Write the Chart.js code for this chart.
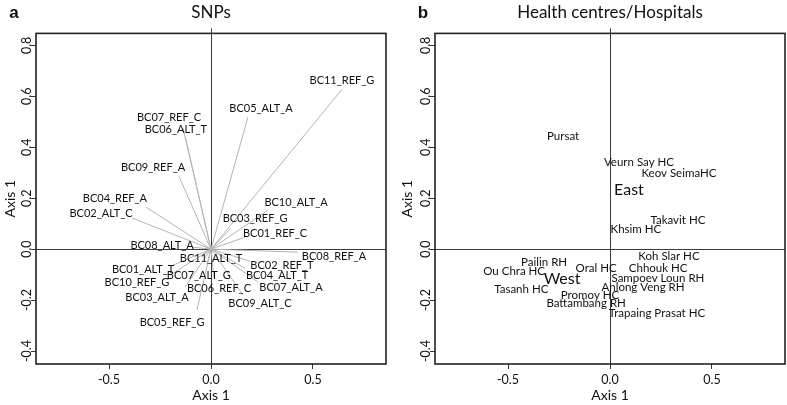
<!DOCTYPE html>
<html>
<head>
<meta charset="utf-8">
<script src="https://cdn.jsdelivr.net/npm/chart.js@4.4.1/dist/chart.umd.min.js"></script>
<style>
  body { margin: 0; background: #fff; width: 787px; height: 405px; position: relative; overflow: hidden; }
  canvas { position: absolute; top: 0; }
  #snp { left: 0; }
  #hc { left: 397px; }
</style>
</head>
<body>
<canvas id="snp" width="395" height="405"></canvas>
<canvas id="hc" width="390" height="405"></canvas>
<script>
// tick labels
const xTicks = [-0.5, 0, 0.5];
const yTicks = [-0.4, -0.2, 0, 0.2, 0.4, 0.6, 0.8];

// panel a: SNP arrows (end points) and where their labels sit
const snpNames = ['BC11_REF_G', 'BC05_ALT_A', 'BC07_REF_C', 'BC06_ALT_T', 'BC09_REF_A', 'BC04_REF_A',
  'BC02_ALT_C', 'BC08_ALT_A', 'BC10_ALT_A', 'BC03_REF_G', 'BC01_REF_C', 'BC08_REF_A', 'BC11_ALT_T',
  'BC02_REF_T', 'BC04_ALT_T', 'BC07_ALT_A', 'BC09_ALT_C', 'BC06_REF_C', 'BC07_ALT_G', 'BC01_ALT_T',
  'BC10_REF_G', 'BC03_ALT_A', 'BC05_REF_G'];
const snpX = [0.642, 0.181, -0.137, -0.123, -0.157, -0.319, -0.387, -0.093, 0.279, 0.098, 0.167, 0.426, -0.03,
  0.191, 0.167, 0.23, 0.157, 0.015, -0.02, -0.186, -0.2, -0.127, -0.069];
const snpY = [0.627, 0.518, 0.475, 0.431, 0.286, 0.165, 0.122, 0.008, 0.153, 0.082, 0.047, -0.012, -0.02,
  -0.047, -0.075, -0.129, -0.18, -0.114, -0.059, -0.063, -0.102, -0.149, -0.239];
const snpLabelX = [0.642, 0.245, -0.206, -0.172, -0.284, -0.471, -0.539, -0.24, 0.417, 0.216, 0.314, 0.603, 0.0,
  0.348, 0.324, 0.392, 0.24, 0.039, -0.06, -0.333, -0.363, -0.265, -0.191];
const snpLabelY = [0.663, 0.553, 0.518, 0.471, 0.322, 0.2, 0.141, 0.016, 0.184, 0.122, 0.063, -0.027, -0.035,
  -0.063, -0.102, -0.149, -0.212, -0.153, -0.102, -0.078, -0.129, -0.188, -0.286];

// panel b: health centres / hospitals
const siteNames = ['Pursat', 'Veurn Say HC', 'Keov SeimaHC', 'Takavit HC', 'Khsim HC', 'Koh Slar HC',
  'Pailin RH', 'Ou Chra HC', 'Oral HC', 'Chhouk HC', 'Sampoev Loun RH', 'Tasanh HC', 'Anlong Veng RH',
  'Promoy HC', 'Battambang RH', 'Trapaing Prasat HC'];
const siteX = [-0.23, 0.142, 0.338, 0.333, 0.127, 0.289, -0.323, -0.47, -0.068, 0.236, 0.235, -0.435, 0.162,
  -0.098, -0.117, 0.23];
const siteY = [0.443, 0.341, 0.298, 0.114, 0.078, -0.027, -0.05, -0.086, -0.076, -0.076, -0.115, -0.158, -0.15,
  -0.18, -0.213, -0.25];
const groupNames = ['East', 'West'];
const groupX = [0.093, -0.235];
const groupY = [0.231, -0.115];

const FONT = 'Lato, "Open Sans", sans-serif';
const INK = '#111';

const framePlugin = {
  id: 'frame',
  beforeDatasetsDraw(chart) {
    const { ctx, chartArea: a, scales: { x, y } } = chart;
    const x0 = Math.round(x.getPixelForValue(0)) + 0.5;
    const y0 = Math.round(y.getPixelForValue(0)) + 0.5;
    ctx.save();
    ctx.strokeStyle = '#3a3a3a';
    ctx.lineWidth = 1;
    ctx.beginPath();
    ctx.moveTo(a.left, y0); ctx.lineTo(a.right, y0);
    ctx.moveTo(x0, a.top - 5); ctx.lineTo(x0, a.bottom);
    ctx.stroke();
    ctx.restore();
  },
  afterDraw(chart, args, opts) {
    const { ctx, chartArea: a } = chart;
    ctx.save();
    ctx.strokeStyle = '#222';
    ctx.lineWidth = 1.6;
    ctx.strokeRect(a.left, a.top, a.right - a.left, a.bottom - a.top);
    ctx.fillStyle = '#111';
    ctx.font = 'bold 17px "Liberation Sans", Arial, sans-serif';
    ctx.textAlign = 'center';
    ctx.textBaseline = 'middle';
    ctx.fillText(opts.letter, opts.letterX, 13);
    ctx.restore();
  }
};

// writes dataset.textLabels at each point of that dataset
const textPlugin = {
  id: 'textLabels',
  afterDatasetsDraw(chart) {
    const ctx = chart.ctx;
    chart.data.datasets.forEach((ds, i) => {
      if (!ds.textLabels) return;
      const meta = chart.getDatasetMeta(i);
      ctx.save();
      ctx.fillStyle = INK;
      ctx.font = ds.textSize + 'px ' + FONT;
      ctx.textAlign = 'center';
      ctx.textBaseline = 'middle';
      meta.data.forEach((pt, j) => ctx.fillText(ds.textLabels[j], pt.x, pt.y));
      ctx.restore();
    });
  }
};

function makeScales(yWidth) {
  const grid = { drawOnChartArea: false, drawTicks: true, tickLength: 5, color: '#333', lineWidth: 1 };
  return {
    x: {
      type: 'linear', min: -0.858, max: 0.858,
      afterBuildTicks: s => { s.ticks = xTicks.map(v => ({ value: v })); },
      afterFit: s => { s.height = 41; },
      grid: grid,
      border: { display: false },
      ticks: { color: INK, font: { family: FONT, size: 12.5 }, padding: 3, maxRotation: 0, autoSkip: false,
        callback: v => v.toFixed(1) },
      title: { display: true, text: 'Axis 1', color: INK, font: { family: FONT, size: 14 }, padding: { top: 2, bottom: 1 } }
    },
    y: {
      type: 'linear', min: -0.451, max: 0.847,
      afterBuildTicks: s => { s.ticks = yTicks.map(v => ({ value: v })); },
      afterFit: s => { s.width = yWidth; },
      grid: grid,
      border: { display: false },
      ticks: { color: INK, font: { family: FONT, size: 12.5 }, minRotation: 90, maxRotation: 90,
        crossAlign: 'center', padding: -7, autoSkip: false, callback: v => v.toFixed(1) },
      title: { display: true, text: 'Axis 1', color: INK, font: { family: FONT, size: 14 }, padding: { top: 2, bottom: 0 } }
    }
  };
}

function baseOptions(titleText, letter, letterX, yWidth, rightPad) {
  return {
    responsive: false,
    animation: false,
    layout: { padding: { left: 0, right: rightPad, top: 0, bottom: 0 } },
    scales: makeScales(yWidth),
    plugins: {
      legend: { display: false },
      tooltip: { enabled: false },
      title: { display: true, text: titleText, fullSize: false, color: INK,
        font: { family: FONT, size: 17, weight: 'normal' }, padding: { top: 2, bottom: 11 } },
      frame: { letter: letter, letterX: letterX }
    }
  };
}

const arrowSets = snpNames.map((name, i) => ({
  label: name,
  data: [{ x: 0, y: 0 }, { x: snpX[i], y: snpY[i] }],
  showLine: true,
  borderColor: '#b4b4b4',
  borderWidth: 1,
  pointRadius: 0
}));

new Chart(document.getElementById('snp'), {
  type: 'scatter',
  data: {
    datasets: arrowSets.concat([{
      label: 'labels',
      data: snpLabelX.map((x, i) => ({ x: x, y: snpLabelY[i] })),
      pointRadius: 0,
      textLabels: snpNames,
      textSize: 11
    }])
  },
  options: baseOptions('SNPs', 'a', 14, 36, 9),
  plugins: [framePlugin, textPlugin]
});

new Chart(document.getElementById('hc'), {
  type: 'scatter',
  data: {
    datasets: [{
      label: 'sites',
      data: siteX.map((x, i) => ({ x: x, y: siteY[i] })),
      pointRadius: 0,
      textLabels: siteNames,
      textSize: 11.5
    }, {
      label: 'groups',
      data: groupX.map((x, i) => ({ x: x, y: groupY[i] })),
      pointRadius: 0,
      textLabels: groupNames,
      textSize: 16
    }]
  },
  options: baseOptions('Health centres/Hospitals', 'b', 26, 38, 2),
  plugins: [framePlugin, textPlugin]
});
</script>
</body>
</html>
